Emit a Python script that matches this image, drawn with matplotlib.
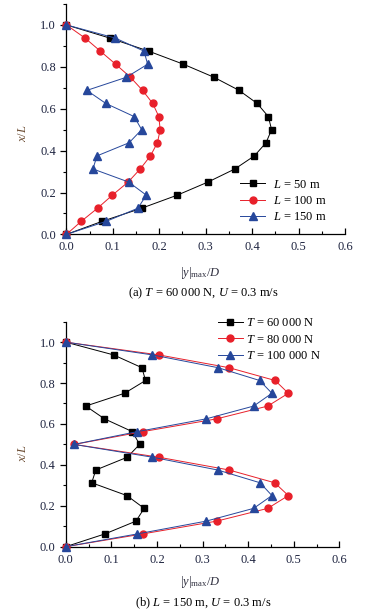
import numpy as np
import matplotlib
matplotlib.use("Agg")
import matplotlib.pyplot as plt
from matplotlib.ticker import MultipleLocator

plt.rcParams['font.family'] = ['Liberation Serif', 'DejaVu Serif']
plt.rcParams['mathtext.fontset'] = 'custom'
plt.rcParams['mathtext.rm'] = 'Liberation Serif'
plt.rcParams['mathtext.it'] = 'Liberation Serif:italic'

# x/L positions (17 nodes)
xL = [i / 16 for i in range(17)]

# panel (a): T = 60 000 N, U = 0.3 m/s
L50 = [0, 0.077, 0.162, 0.239, 0.305, 0.363, 0.405, 0.430, 0.442,
       0.435, 0.411, 0.372, 0.318, 0.252, 0.177, 0.093, 0]
L100 = [0, 0.032, 0.067, 0.099, 0.133, 0.159, 0.181, 0.196, 0.202,
        0.199, 0.186, 0.164, 0.138, 0.106, 0.073, 0.040, 0]
L150 = [0, 0.086, 0.154, 0.172, 0.134, 0.057, 0.066, 0.135, 0.162,
        0.146, 0.085, 0.044, 0.129, 0.175, 0.167, 0.105, 0]

# panel (b): L = 150 m, U = 0.3 m/s
T60 = L150
T80 = [0, 0.169, 0.331, 0.443, 0.488, 0.458, 0.358, 0.204, 0.019,
       0.169, 0.331, 0.443, 0.488, 0.459, 0.358, 0.204, 0]
T100 = [0, 0.157, 0.308, 0.412, 0.452, 0.426, 0.333, 0.190, 0.018,
        0.157, 0.308, 0.412, 0.452, 0.425, 0.334, 0.190, 0]

black = '#000000'
red = '#e8202a'
blue = '#26479b'
tickc = '#1e2440'

fig = plt.figure(figsize=(3.65, 6.12), dpi=100)
ax1 = fig.add_axes([0.182, 0.617, 0.763, 0.3765])
ax2 = fig.add_axes([0.180, 0.1067, 0.750, 0.3677])


def style(ax):
    ax.set_xlim(0, 0.6)
    ax.set_ylim(0, 1.1)
    ax.spines['top'].set_visible(False)
    ax.spines['right'].set_visible(False)
    ax.xaxis.set_major_locator(MultipleLocator(0.1))
    ax.xaxis.set_minor_locator(MultipleLocator(0.05))
    ax.yaxis.set_major_locator(MultipleLocator(0.2))
    ax.yaxis.set_minor_locator(MultipleLocator(0.1))
    ax.set_yticks(np.arange(0, 1.01, 0.2))
    ax.xaxis.set_major_formatter(plt.FuncFormatter(lambda v, p: f"{v:.1f}"))
    ax.yaxis.set_major_formatter(plt.FuncFormatter(lambda v, p: f"{v:.1f}"))
    ax.tick_params(axis='x', which='both', direction='in', labelsize=9, labelcolor=tickc, pad=5)
    ax.tick_params(axis='y', which='both', direction='out', labelsize=9, labelcolor=tickc)
    ax.tick_params(which='major', length=4, width=0.9)
    ax.tick_params(which='minor', length=2.5, width=0.8)
    for s in ('left', 'bottom'):
        ax.spines[s].set_linewidth(0.9)


style(ax1)
ax1.plot(L50, xL, color=black, lw=0.7, marker='s', ms=4, clip_on=False, label='$L$ = 50 m', zorder=3)
ax1.plot(L100, xL, color=red, lw=0.7, marker='o', ms=5, clip_on=False, label='$L$ = 100 m', zorder=3)
ax1.plot(L150, xL, color=blue, lw=0.7, marker='^', ms=5.5, clip_on=False, label='$L$ = 150 m', zorder=4)
ax1.legend(loc='center left', bbox_to_anchor=(0.625, 0.145), frameon=False, fontsize=9,
           handlelength=2.0, handletextpad=0.6, labelspacing=0.35, borderpad=0, borderaxespad=0)

style(ax2)
ax2.plot(T60, xL, color=black, lw=0.7, marker='s', ms=4, clip_on=False, label='$T$ = 60 000 N', zorder=3)
ax2.plot(T80, xL, color=red, lw=0.7, marker='o', ms=5, clip_on=False, label='$T$ = 80 000 N', zorder=3)
ax2.plot(T100, xL, color=blue, lw=0.7, marker='^', ms=5.5, clip_on=False, label='$T$ = 100 000 N', zorder=4)
ax2.legend(loc='center left', bbox_to_anchor=(0.555, 0.92), frameon=False, fontsize=9,
           handlelength=2.0, handletextpad=0.3, labelspacing=0.35, borderpad=0, borderaxespad=0)

# axis labels and captions
fig.text(23 / 365, 1 - 133 / 612, '$x/L$', rotation=90, ha='center', va='center', fontsize=9, color='#6a4a30')
fig.text(23 / 365, 1 - 453 / 612, '$x/L$', rotation=90, ha='center', va='center', fontsize=9, color='#6a4a30')
fig.text(200 / 365, 1 - 273 / 612, r'$|y|_{\mathrm{max}}/D$', ha='center', va='center', fontsize=9, color='#303040')
fig.text(203 / 365, 1 - 293 / 612, '(a) $T$ = 60 000 N, $U$ = 0.3 m/s', ha='center', va='center', fontsize=9)
fig.text(200 / 365, 1 - 582 / 612, r'$|y|_{\mathrm{max}}/D$', ha='center', va='center', fontsize=9, color='#303040')
fig.text(203 / 365, 1 - 603 / 612, '(b) $L$ = 150 m, $U$ = 0.3 m/s', ha='center', va='center', fontsize=9)

fig.savefig('out.png', dpi=100)
